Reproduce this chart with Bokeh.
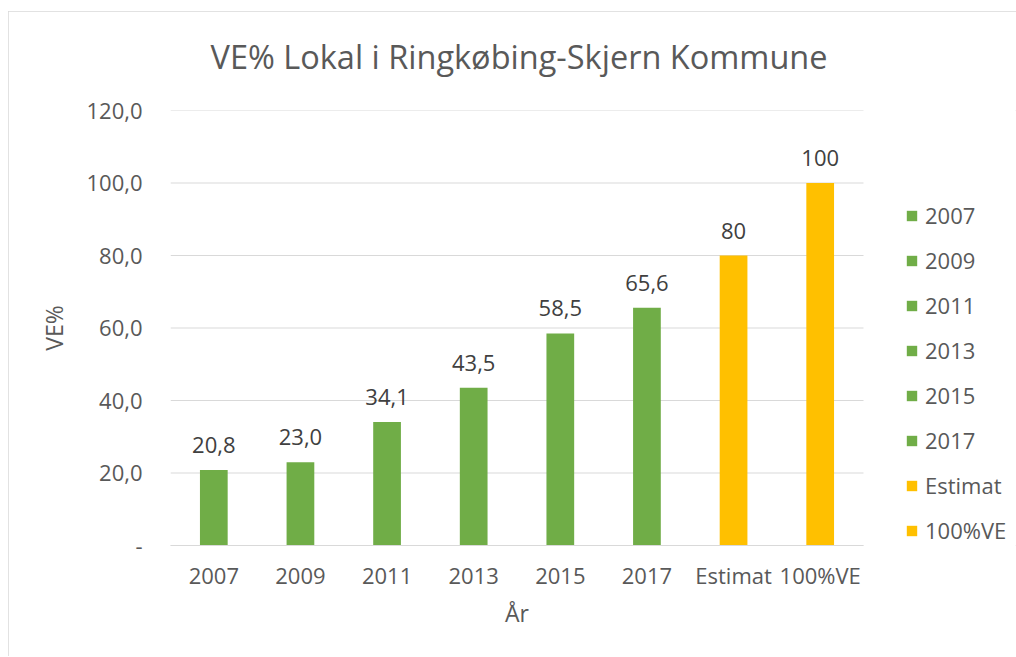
from bokeh.plotting import figure
from bokeh.models import (ColumnDataSource, Range1d, FixedTicker,
                          LabelSet, Legend, LegendItem, Title)
from bokeh.core.properties import value
from bokeh.embed import file_html
from bokeh.resources import INLINE

# ---- data ----
categories = ["2007", "2009", "2011", "2013", "2015", "2017", "Estimat", "100%VE"]
values = [20.8, 23.0, 34.1, 43.5, 58.5, 65.6, 80, 100]
value_labels = ["20,8", "23,0", "34,1", "43,5", "58,5", "65,6", "80", "100"]
target_categories = ["Estimat", "100%VE"]
y_ticks = [0, 20, 40, 60, 80, 100, 120]
y_tick_labels = ["-", "20,0", "40,0", "60,0", "80,0", "100,0", "120,0"]
chart_title = "VE% Lokal i Ringkøbing-Skjern Kommune"
x_title = "År"
y_title = "VE%"

GREEN = "#70AD47"
GOLD = "#FFC000"
TXT = "#595959"
GRID = "#d9d9d9"
FONT = "Open Sans"

# ---- layout constants (pixels) ----
FIG_W, FIG_H = 1008, 645
LEFT, TOP, BOTTOM = 162, 99, 111
PLOT_AREA_W = 693            # width taken by the categories
FRAME_W = FIG_W - LEFT       # frame runs to the right edge (legend lives there)

n = len(categories)
xs = list(range(n))
colors = [GOLD if c in target_categories else GREEN for c in categories]
src = ColumnDataSource(dict(x=xs, cat=categories, val=values, lbl=value_labels, color=colors))

x_start = -0.5
x_end = x_start + n * FRAME_W / PLOT_AREA_W

p = figure(x_range=Range1d(x_start, x_end), y_range=Range1d(y_ticks[0], y_ticks[-1]),
           width=FIG_W, height=FIG_H, output_backend="svg", toolbar_location=None,
           min_border_left=LEFT, min_border_right=0, min_border_top=TOP,
           min_border_bottom=BOTTOM)
p.title = None
p.styles = {"outline": "1px solid #d9d9d9", "outline-offset": "-1px",
            "margin-top": "11px", "margin-left": "8px"}
p.outline_line_color = None
p.background_fill_color = "white"
p.border_fill_color = "white"
p.xgrid.grid_line_color = None
p.ygrid.grid_line_color = None

# horizontal gridlines spanning the category area only
p.segment(x0=[x_start] * len(y_ticks), x1=[n - 0.5] * len(y_ticks), y0=y_ticks, y1=y_ticks,
          line_color=GRID, line_width=1)

r = p.vbar(x="x", top="val", width=0.32, source=src, fill_color="color", line_color=None)

labels = LabelSet(x="x", y="val", text="lbl", source=src, text_align="center",
                  text_baseline="alphabetic", y_offset=17, text_font_size="22px",
                  text_color="#404040", text_font=value(FONT))
p.add_layout(labels)

# titles (spacer nearest the frame, then the main title above it)
p.add_layout(Title(text=" ", text_font_size="20px", standoff=8), "above")
p.add_layout(Title(text=chart_title, align="left", offset=40, text_font=FONT,
                   text_font_size="32.5px", text_font_style="normal",
                   text_color=TXT, standoff=0), "above")

# axes
p.yaxis.ticker = FixedTicker(ticks=y_ticks)
p.yaxis.major_label_overrides = {t: l for t, l in zip(y_ticks, y_tick_labels)}
p.yaxis.axis_line_color = None
p.yaxis.major_label_standoff = 28
p.yaxis.axis_label = y_title
p.yaxis.axis_label_standoff = 13

p.xaxis.ticker = FixedTicker(ticks=xs)
p.xaxis.major_label_overrides = {x: c for x, c in zip(xs, categories)}
p.xaxis.bounds = (x_start, n - 0.5)
p.xaxis.axis_line_color = GRID
p.xaxis.major_label_standoff = 14

for ax in (p.xaxis[0], p.yaxis[0]):
    ax.major_tick_line_color = None
    ax.minor_tick_line_color = None
    ax.major_label_text_font = FONT
    ax.major_label_text_font_size = "22px"
    ax.major_label_text_color = TXT
    ax.axis_label_text_font = FONT
    ax.axis_label_text_font_size = "23px"
    ax.axis_label_text_font_style = "normal"
    ax.axis_label_text_color = TXT
    ax.major_tick_out = 0
    ax.major_tick_in = 0

# x-axis title centred under the category area
p.add_layout(Title(text=x_title, align="left", offset=PLOT_AREA_W / 2 - 12,
                   vertical_align="top", text_font=FONT, text_font_size="23px",
                   text_font_style="normal", text_color=TXT, standoff=8), "below")

items = [LegendItem(label=c, renderers=[r], index=i) for i, c in enumerate(categories)]
legend = Legend(items=items, location=(PLOT_AREA_W + 42, 0), padding=0, spacing=15,
                glyph_width=13, glyph_height=13, label_text_font=FONT,
                label_text_font_size="22px", label_text_color=TXT, label_standoff=7,
                border_line_color=None, background_fill_alpha=0)
p.add_layout(legend, "center")

open("out.html", "w").write(file_html(p, INLINE))
